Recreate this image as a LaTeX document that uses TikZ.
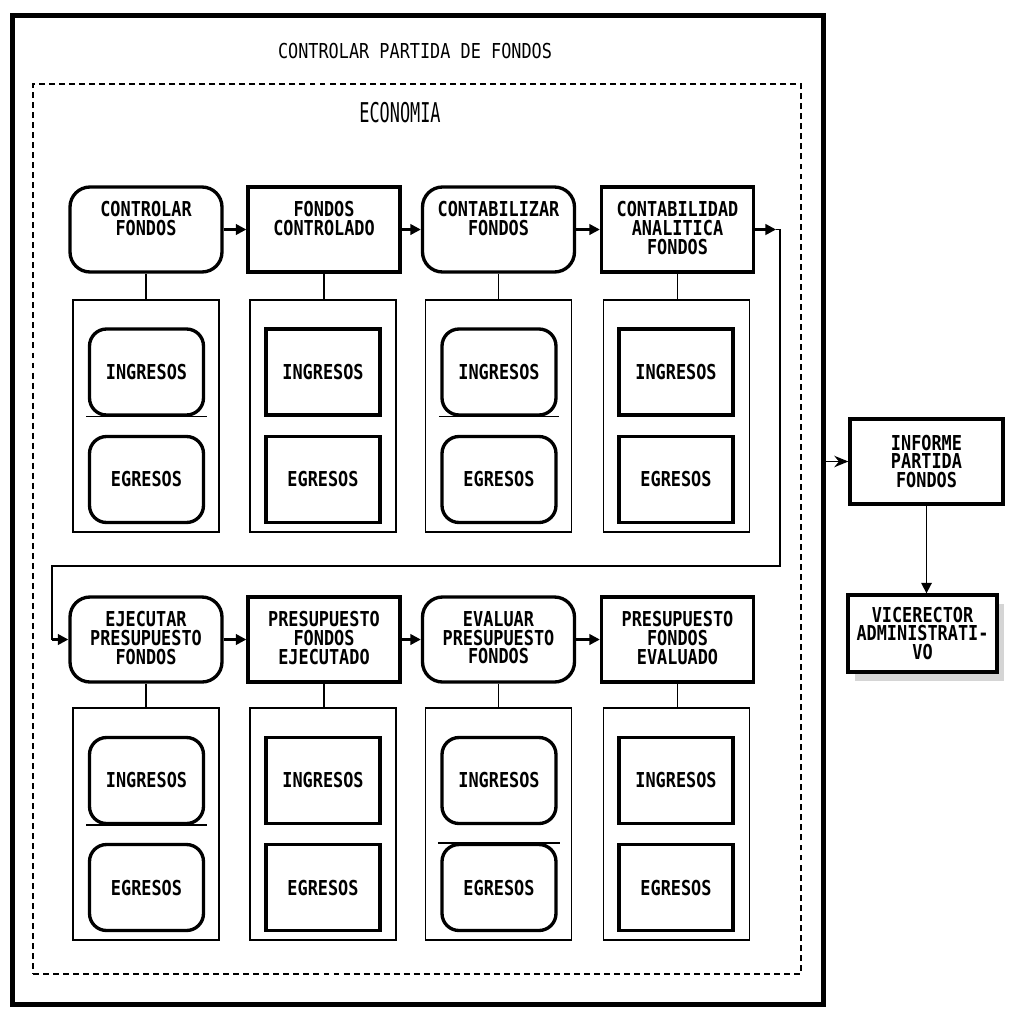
\documentclass[tikz,border=0pt]{standalone}
\usepackage{fontspec}
\newfontfamily\plotfont[FakeStretch=0.82]{DejaVu Sans Mono}
\newfontfamily\tallfont[FakeStretch=0.62]{DejaVu Sans Mono}
\usetikzlibrary{arrows.meta,shadows}

\begin{document}
\begin{tikzpicture}[x=0.02cm,y=-0.02cm,>={Triangle[length=6pt,width=6pt]},
  marco/.style={draw, line width=2.8pt, minimum width=16.24cm, minimum height=19.8cm, inner sep=0},
  zona/.style={draw, line width=1.4pt, dash pattern=on 3.4pt off 2.3pt, minimum width=15.36cm, minimum height=17.8cm, inner sep=0},
  proc/.style={draw, line width=1.9pt, rounded corners=0.4cm, minimum width=3.04cm, minimum height=1.7cm, inner sep=0},
  dato/.style={draw, line width=1.9pt, minimum width=3.04cm, minimum height=1.7cm, inner sep=0},
  lbl/.style={anchor=north, yshift=-0.32cm, inner sep=0, align=center, font=\plotfont\bfseries\fontsize{11.7}{10.6}\selectfont},
  grupo/.style={draw, line width=1pt, minimum width=2.92cm, minimum height=4.64cm, inner sep=0},
  sub/.style={draw, line width=1.9pt, rounded corners=0.34cm, minimum width=2.28cm, minimum height=1.72cm, inner sep=0, font=\plotfont\bfseries\fontsize{11.7}{10.6}\selectfont},
  subrect/.style={sub, sharp corners},
  caja/.style={draw, fill=white, line width=1.9pt, minimum width=3.06cm, minimum height=1.7cm, inner sep=0, align=center, font=\plotfont\bfseries\fontsize{11.7}{10.4}\selectfont},
  linea/.style={line width=0.9pt},
  flujo/.style={->, line width=1.4pt}]

  \useasboundingbox (0,0) rectangle (1010,1008);

  %frames
  \node[marco] (marco) at (418,510) {};
  \node[zona] (zona) at (417,529) {};
  \node[inner sep=0, font=\plotfont\fontsize{11.7}{12}\selectfont] (titulo) at (415,51) {CONTROLAR PARTIDA DE FONDOS};
  \node[inner sep=0, font=\tallfont\fontsize{15.5}{16}\selectfont] (area) at (400,113) {ECONOMIA};

  %row 1
  \node[proc] (h1) at (146,229.5) {};
  \node[lbl] (l1) at (h1.north) {CONTROLAR\\FONDOS};
  \node[dato] (h2) at (324,229.5) {};
  \node[lbl] (l2) at (h2.north) {FONDOS\\CONTROLADO};
  \node[proc] (h3) at (498.5,229.5) {};
  \node[lbl] (l3) at (h3.north) {CONTABILIZAR\\FONDOS};
  \node[dato] (h4) at (677.5,229.5) {};
  \node[lbl] (l4) at (h4.north) {CONTABILIDAD\\ANALITICA\\FONDOS};

  \node[grupo] (g1) at (146,416) {};
  \node[grupo] (g2) at (323,416) {};
  \node[grupo] (g3) at (498.5,416) {};
  \node[grupo] (g4) at (676.5,416) {};

  \node[sub] (i1) at (146.5,372) {INGRESOS};
  \node[sub] (e1) at (146.5,479.5) {EGRESOS};
  \node[subrect] (i2) at (323,372) {INGRESOS};
  \node[subrect] (e2) at (323,479.5) {EGRESOS};
  \node[sub] (i3) at (499,372) {INGRESOS};
  \node[sub] (e3) at (499,479.5) {EGRESOS};
  \node[subrect] (i4) at (676,372) {INGRESOS};
  \node[subrect] (e4) at (676,479.5) {EGRESOS};

  %row 2
  \node[proc] (h5) at (146,639.5) {};
  \node[lbl] (l5) at (h5.north) {EJECUTAR\\PRESUPUESTO\\FONDOS};
  \node[dato] (h6) at (324,639.5) {};
  \node[lbl] (l6) at (h6.north) {PRESUPUESTO\\FONDOS\\EJECUTADO};
  \node[proc] (h7) at (498.5,639.5) {};
  \node[lbl] (l7) at (h7.north) {EVALUAR\\PRESUPUESTO\\FONDOS};
  \node[dato] (h8) at (677.5,639.5) {};
  \node[lbl] (l8) at (h8.north) {PRESUPUESTO\\FONDOS\\EVALUADO};

  \node[grupo] (g5) at (146,824) {};
  \node[grupo] (g6) at (323,824) {};
  \node[grupo] (g7) at (498.5,824) {};
  \node[grupo] (g8) at (676.5,824) {};

  \node[sub] (i5) at (146.5,780.5) {INGRESOS};
  \node[sub] (e5) at (146.5,887.5) {EGRESOS};
  \node[subrect] (i6) at (323,780.5) {INGRESOS};
  \node[subrect] (e6) at (323,887.5) {EGRESOS};
  \node[sub] (i7) at (499,780.5) {INGRESOS};
  \node[sub] (e7) at (499,887.5) {EGRESOS};
  \node[subrect] (i8) at (676,780.5) {INGRESOS};
  \node[subrect] (e8) at (676,887.5) {EGRESOS};

  %outside
  \node[caja] (inf) at (926.5,461.5) {INFORME\\PARTIDA\\FONDOS};
  \node[caja, minimum width=2.98cm, minimum height=1.54cm,
    drop shadow={shadow xshift=0.13cm, shadow yshift=-0.17cm, fill=gray!65}] (vic) at (922.5,633.5) {VICERECTOR\\ADMINISTRATI-\\VO};

  %header to group
  \draw[linea] (h1.south) -- (h1.south |- g1.north);
  \draw[linea] (h2.south) -- (h2.south |- g2.north);
  \draw[linea] (h3.south) -- (h3.south |- g3.north);
  \draw[linea] (h4.south) -- (h4.south |- g4.north);
  \draw[linea] (h5.south) -- (h5.south |- g5.north);
  \draw[linea] (h6.south) -- (h6.south |- g6.north);
  \draw[linea] (h7.south) -- (h7.south |- g7.north);
  \draw[linea] (h8.south) -- (h8.south |- g8.north);

  %under / over lines
  \draw[linea] ([xshift=-0.03cm]i1.south west) -- ([xshift=0.03cm]i1.south east);
  \draw[linea] ([xshift=-0.03cm]i3.south west) -- ([xshift=0.03cm]i3.south east);
  \draw[linea] ([xshift=-0.03cm]i5.south west) -- ([xshift=0.03cm]i5.south east);
  \draw[linea] ([xshift=-0.05cm]e7.north west) -- ([xshift=0.05cm]e7.north east);

  %flow
  \draw[flujo] (h1) -- (h2);
  \draw[flujo] (h2) -- (h3);
  \draw[flujo] (h3) -- (h4);
  \coordinate (p1) at (776,229.5);
  \coordinate (v1) at (780,229.5);
  \coordinate (v2) at (52,566);
  \draw[flujo] (h4.east) -- (p1);
  \draw[linea] (p1) -- (v1) |- (v2) -- (v2 |- h5.west);
  \draw[flujo] (v2 |- h5.west) -- (h5.west);
  \draw[flujo] (h5) -- (h6);
  \draw[flujo] (h6) -- (h7);
  \draw[flujo] (h7) -- (h8);

  \draw[linea, -{Stealth[length=8pt,width=6.5pt]}] (marco.east |- inf.west) -- (inf.west);
  \draw[linea, ->] (inf.south) -- (inf.south |- vic.north);
\end{tikzpicture}
\end{document}
